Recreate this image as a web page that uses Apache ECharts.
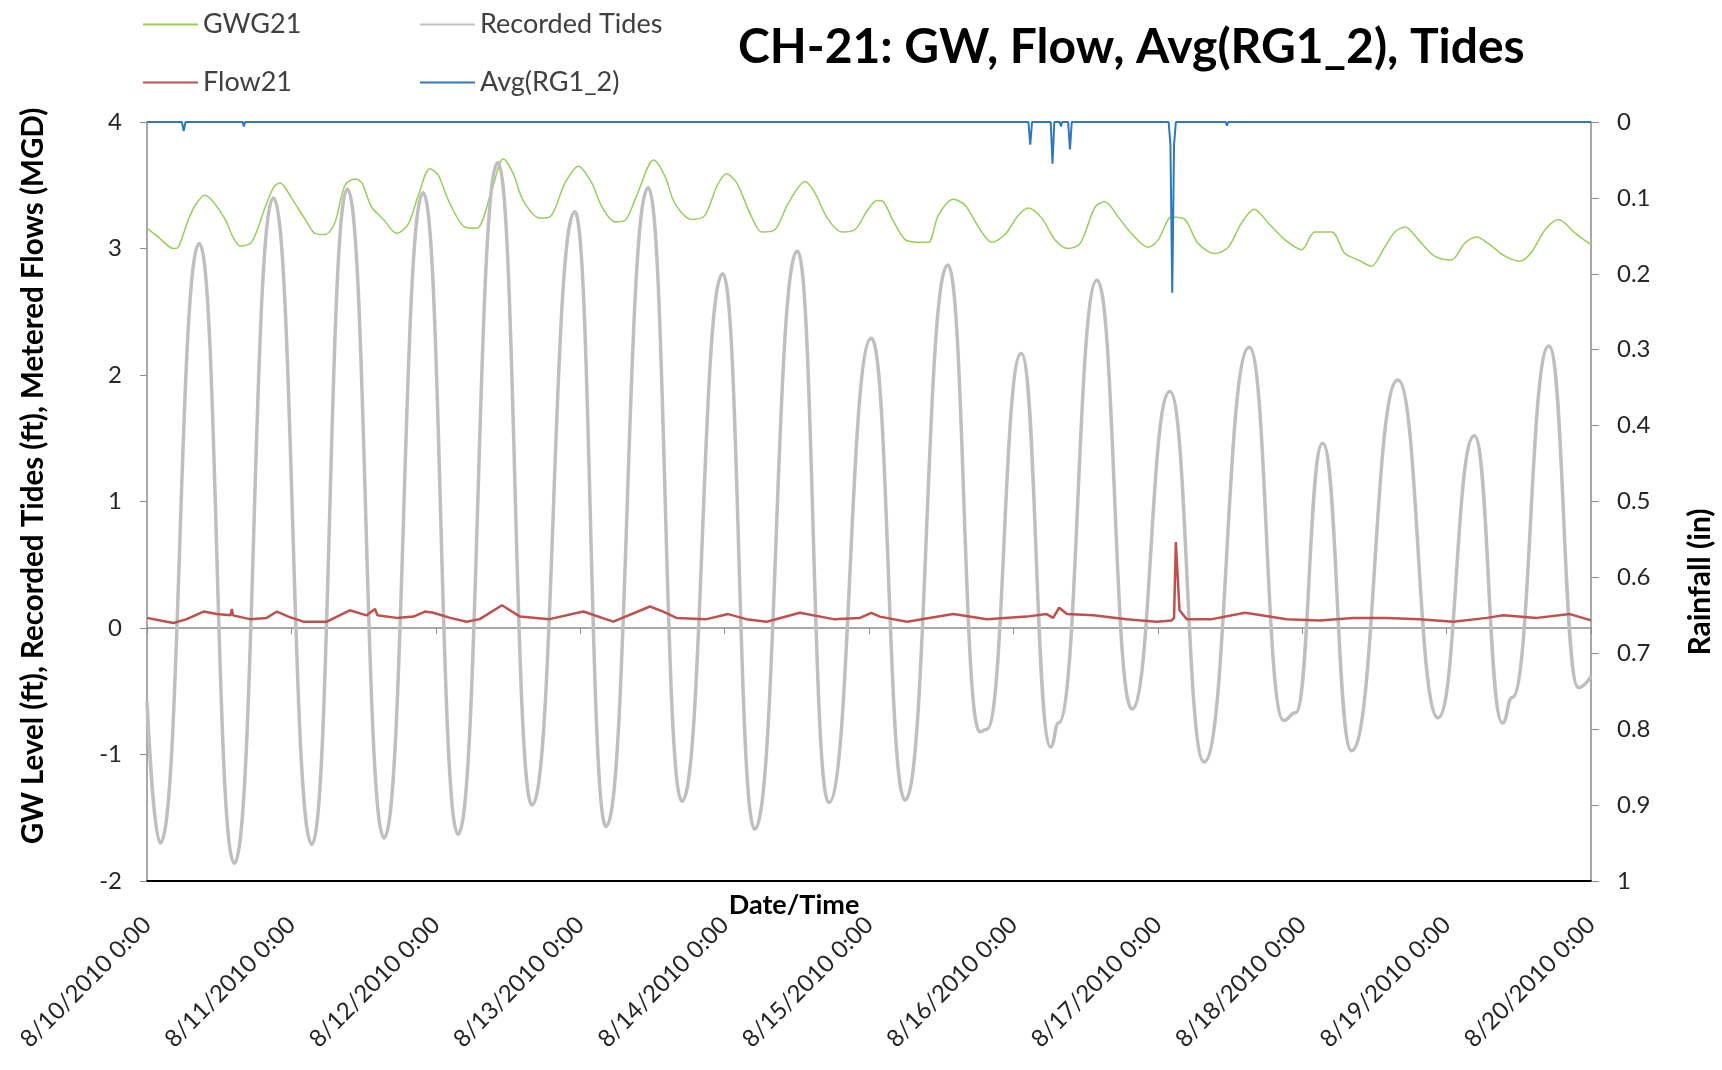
<!DOCTYPE html>
<html><head><meta charset="utf-8">
<script src="https://cdn.jsdelivr.net/npm/echarts@6/dist/echarts.min.js"></script>
<style>html,body{margin:0;padding:0;background:#fff}#c{width:1722px;height:1070px}</style>
</head><body><div id="c"></div>
<script>
// X axis: hours since 8/10/2010 0:00
const xTickLabels = ['8/10/2010 0:00','8/11/2010 0:00','8/12/2010 0:00','8/13/2010 0:00','8/14/2010 0:00','8/15/2010 0:00','8/16/2010 0:00','8/17/2010 0:00','8/18/2010 0:00','8/19/2010 0:00','8/20/2010 0:00'];

// Recorded Tides (ft)
const tideHours  = [0,2.2,8.7,14.5,21.0,27.4,33.3,39.4,45.9,51.7,58.3,64.0,71.1,76.3,83.3,88.9,95.7,101.0,108.1,113.3,120.4,126.0,133.1,138.4,139.6,145.3,150.2,151.5,157.9,163.7,170.0,175.7,183.2,188.9,190.9,195.4,200.2,207.9,214.6,220.6,225.3,226.9,233.0,237.9,240];
const tideValues = [-0.58,-1.70,3.04,-1.86,3.40,-1.71,3.47,-1.66,3.44,-1.63,3.68,-1.40,3.29,-1.57,3.48,-1.37,2.80,-1.59,2.98,-1.38,2.29,-1.36,2.87,-0.82,-0.80,2.17,-0.94,-0.75,2.75,-0.64,1.87,-1.06,2.22,-0.73,-0.67,1.46,-0.97,1.96,-0.71,1.52,-0.75,-0.55,2.23,-0.47,-0.38];

// GWG21 (ft)
const gwHours  = [0,1.9,4.4,5.2,6.9,8.0,9.6,11.0,13.0,14.3,15.5,17.4,19.6,21.0,22.1,24.0,26.3,27.9,29.6,31.2,32.9,34.6,35.7,37.3,39.3,41.5,43.4,45.1,47.0,48.4,50.1,52.8,54.8,57.3,59.2,60.9,62.5,65.3,67.0,69.5,71.7,73.9,75.6,77.8,79.4,81.4,84.2,86.1,87.7,90.5,92.7,94.7,96.3,98.0,100.2,102.2,104.4,106.6,109.4,111.0,113.2,115.5,117.7,119.6,121.3,122.4,123.8,126.0,128.2,129.9,131.5,134.0,136.0,138.2,140.4,142.6,144.8,146.5,148.7,150.9,153.1,155.1,157.6,159.2,161.4,163.6,166.4,168.1,170.3,172.5,174.7,177.5,179.7,181.9,184.0,186.4,189.1,191.9,194.1,196.9,199.1,201.3,203.5,205.7,207.4,209.1,211.3,214.0,216.8,219.0,221.0,222.9,225.7,228.2,230.1,232.4,234.6,237.4,240];
const gwValues = [3.16,3.09,3.00,3.01,3.23,3.34,3.42,3.37,3.23,3.09,3.02,3.05,3.32,3.48,3.52,3.40,3.23,3.12,3.11,3.20,3.50,3.55,3.52,3.33,3.23,3.12,3.19,3.42,3.63,3.58,3.38,3.17,3.16,3.46,3.71,3.59,3.38,3.24,3.25,3.52,3.65,3.52,3.33,3.21,3.22,3.42,3.70,3.57,3.36,3.23,3.26,3.49,3.59,3.52,3.28,3.13,3.15,3.36,3.53,3.44,3.23,3.13,3.15,3.29,3.38,3.37,3.24,3.07,3.05,3.05,3.26,3.39,3.34,3.17,3.05,3.11,3.26,3.32,3.24,3.07,3.00,3.04,3.33,3.37,3.25,3.12,3.01,3.07,3.25,3.23,3.04,2.96,3.01,3.20,3.31,3.20,3.07,2.99,3.13,3.13,2.96,2.91,2.86,3.01,3.13,3.17,3.07,2.94,2.91,3.04,3.09,3.04,2.94,2.90,2.97,3.15,3.23,3.12,3.03];

// Flow21 (MGD)
const flowHours  = [0,2.2,4.4,6.6,9.4,11.6,13.9,14.1,14.3,17.1,19.9,21.6,23.5,26.0,29.9,33.7,36.5,37.9,38.3,41.5,44.3,46.2,47.6,50.4,53.1,55.3,59.0,62.0,66.9,72.5,77.5,83.6,85.8,88.0,93.0,96.6,99.6,103.0,108.5,114.1,118.5,120.4,121.8,126.3,134.0,139.6,146.2,149.5,150.6,151.6,152.9,157.3,162.8,167.8,170.3,170.7,171.0,171.6,172.8,177.0,182.5,183.9,189.4,194.9,200.5,206.0,211.5,217.1,222.7,225.4,231.0,236.5,240];
const flowValues = [0.08,0.06,0.04,0.07,0.13,0.11,0.10,0.15,0.10,0.07,0.08,0.13,0.09,0.05,0.05,0.14,0.10,0.15,0.10,0.08,0.09,0.13,0.12,0.08,0.05,0.07,0.18,0.09,0.07,0.13,0.05,0.17,0.13,0.08,0.07,0.11,0.07,0.05,0.12,0.07,0.08,0.12,0.09,0.05,0.11,0.07,0.09,0.11,0.08,0.16,0.11,0.10,0.07,0.05,0.06,0.08,0.68,0.14,0.07,0.07,0.12,0.11,0.07,0.06,0.08,0.08,0.07,0.05,0.08,0.10,0.08,0.11,0.06];

// Avg(RG1_2) rainfall (in)
const rainHours  = [0,5.8,6.1,6.4,15.9,16.1,16.3,146.5,146.8,147.1,150.2,150.5,150.8,151.7,151.9,152.1,153.1,153.4,153.7,169.8,170.1,170.4,170.7,171.0,179.3,179.5,179.7,240];
const rainValues = [0,0,0.012,0,0,0.006,0,0,0.03,0,0,0.055,0,0,0.006,0,0,0.036,0,0,0.03,0.225,0.03,0,0,0.005,0,0];

const FONT = 'Lato';
const zip = (a, b) => a.map((v, i) => [v, b[i]]);

const chart = echarts.init(document.getElementById('c'), null, {renderer: 'canvas'});

function legendAt(name, left, top) {
  return {
    data: [name], left: left, top: top, padding: 0, itemWidth: 55, itemHeight: 14,
    icon: 'path://M0,6 L55,6 L55,8 L0,8 Z',
    textStyle: {fontFamily: FONT, fontSize: 27, color: '#404040'},
    selectedMode: false
  };
}

const option = {
  animation: false,
  backgroundColor: '#ffffff',
  title: {
    text: 'CH-21: GW, Flow, Avg(RG1_2), Tides', left: 738, top: 24, padding: 0,
    textStyle: {fontFamily: FONT, fontWeight: 'bold', fontSize: 48, color: '#000'}
  },
  legend: [
    legendAt('GWG21', 143, 11),
    legendAt('Recorded Tides', 420, 11),
    legendAt('Flow21', 143, 69),
    legendAt('Avg(RG1_2)', 420, 69)
  ],
  grid: {left: 147, right: 131, top: 122, bottom: 189, containLabel: false},
  xAxis: [
    {
      type: 'value', min: 0, max: 240, interval: 24, position: 'bottom',
      axisLine: {onZero: false, lineStyle: {color: '#000', width: 2}},
      axisTick: {show: false}, splitLine: {show: false},
      axisLabel: {rotate: 45, margin: 40, fontFamily: FONT, fontSize: 24, color: '#262626',
        formatter: v => xTickLabels[Math.round(v / 24)]}
    },
    {
      type: 'value', min: 0, max: 240, interval: 24, position: 'bottom',
      axisLine: {onZero: true, onZeroAxisIndex: 0, lineStyle: {color: '#8c8c8c', width: 1.5}},
      axisTick: {show: true, inside: false, length: 6, lineStyle: {color: '#8c8c8c'}},
      axisLabel: {show: false}, splitLine: {show: false}
    }
  ],
  yAxis: [
    {
      type: 'value', min: -2, max: 4, interval: 1, position: 'left',
      axisLine: {show: true, onZero: false, lineStyle: {color: '#8c8c8c', width: 1.5}},
      axisTick: {show: true, length: 7, lineStyle: {color: '#8c8c8c'}},
      splitLine: {show: false},
      axisLabel: {margin: 25, fontFamily: FONT, fontSize: 24, color: '#262626'}
    },
    {
      type: 'value', min: 0, max: 1, interval: 0.1, inverse: true, position: 'right',
      axisLine: {show: true, onZero: false, lineStyle: {color: '#8c8c8c', width: 1.5}},
      axisTick: {show: true, length: 8, lineStyle: {color: '#8c8c8c'}},
      splitLine: {show: false},
      axisLabel: {margin: 26, fontFamily: FONT, fontSize: 24, color: '#262626'}
    }
  ],
  graphic: [
    {type: 'text', x: 794, y: 905, style: {text: 'Date/Time', font: 'bold 27px Lato', fill: '#000', textAlign: 'center', textVerticalAlign: 'middle'}},
    {type: 'text', x: 33, y: 476, rotation: Math.PI / 2, style: {text: 'GW Level (ft), Recorded Tides (ft), Metered Flows (MGD)', font: 'bold 29.5px Lato', fill: '#000', textAlign: 'center', textVerticalAlign: 'middle'}},
    {type: 'text', x: 1700, y: 582, rotation: Math.PI / 2, style: {text: 'Rainfall (in)', font: 'bold 30px Lato', fill: '#000', textAlign: 'center', textVerticalAlign: 'middle'}}
  ],
  series: [
    {name: 'GWG21', type: 'line', xAxisIndex: 0, yAxisIndex: 0, data: zip(gwHours, gwValues),
      showSymbol: false, symbol: 'none', smooth: 0.3, lineStyle: {color: '#9ACD5A', width: 1.5}, itemStyle: {color: '#9ACD5A'}},
    {name: 'Recorded Tides', type: 'line', xAxisIndex: 0, yAxisIndex: 0, data: zip(tideHours, tideValues),
      showSymbol: false, symbol: 'none', smooth: 0.5, smoothMonotone: 'x', lineStyle: {color: '#BFBFBF', width: 3.5}, itemStyle: {color: '#BFBFBF'}},
    {name: 'Flow21', type: 'line', xAxisIndex: 0, yAxisIndex: 0, data: zip(flowHours, flowValues),
      showSymbol: false, symbol: 'none', lineStyle: {color: '#C0504D', width: 2.5}, itemStyle: {color: '#C0504D'}},
    {name: 'Avg(RG1_2)', type: 'line', xAxisIndex: 0, yAxisIndex: 1, data: zip(rainHours, rainValues),
      showSymbol: false, symbol: 'none', lineStyle: {color: '#2E78BC', width: 2}, itemStyle: {color: '#2E78BC'}}
  ]
};
chart.setOption(option);
</script>
</body></html>
